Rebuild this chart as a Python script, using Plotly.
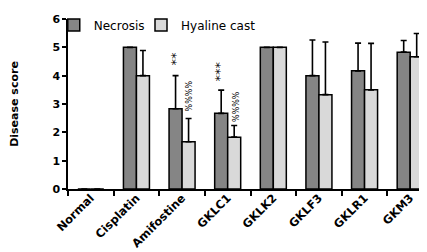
import plotly.graph_objects as go

categories = ["Normal", "Cisplatin", "Amifostine", "GKLC1", "GKLK2", "GKLF3", "GKLR1", "GKM3"]
necrosis = [0, 5, 2.83, 2.67, 5, 4.0, 4.17, 4.83]
necrosis_sd = [0, 0, 1.17, 0.82, 0, 1.26, 0.98, 0.41]
hyaline = [0, 4, 1.67, 1.83, 5, 3.33, 3.5, 4.67]
hyaline_sd = [0, 0.89, 0.82, 0.41, 0, 1.86, 1.64, 0.82]
y_ticks = [0, 1, 2, 3, 4, 5, 6]

font_fam = "DejaVu Sans"

def err(sd):
    return dict(type="data", symmetric=False, array=sd, arrayminus=[0] * len(sd),
                color="black", thickness=1.6, width=3)

fig = go.Figure()
fig.add_trace(go.Bar(name="Necrosis", x=categories, y=necrosis, error_y=err(necrosis_sd),
                     marker=dict(color="#858585", line=dict(color="black", width=1.5)),
                     legend="legend"))
fig.add_trace(go.Bar(name="Hyaline cast", x=categories, y=hyaline, error_y=err(hyaline_sd),
                     marker=dict(color="#d9d9d9", line=dict(color="black", width=1.5)),
                     legend="legend2"))

ann = [
    ("Amifostine", -6.5, 4.59, "**", 13),
    ("Amifostine", 7, 3.27, "%%%%", 8),
    ("GKLC1", -8, 4.14, "***", 13),
    ("GKLC1", 9, 2.92, "%%%%", 8),
]
for cat, xs, yv, txt, sz in ann:
    fig.add_annotation(x=cat, y=yv, xshift=xs, text=txt, textangle=-90, showarrow=False,
                       xanchor="center", yanchor="middle",
                       font=dict(family=font_fam, size=sz, color="black"))

leg_common = dict(orientation="h", y=0.965, xanchor="left", yanchor="middle",
                  font=dict(family=font_fam, size=12, color="black"),
                  bgcolor="rgba(0,0,0,0)", itemwidth=30)

fig.update_layout(
    width=427, height=252,
    margin=dict(l=57, r=2, t=7, b=71),
    paper_bgcolor="white", plot_bgcolor="white",
    barmode="group", bargap=0.43, bargroupgap=0,
    font=dict(family=font_fam, color="black"),
    legend=dict(x=-0.039, **leg_common),
    legend2=dict(x=0.2, **leg_common),
    showlegend=True,
)
fig.update_xaxes(
    type="category", showline=True, linecolor="black", linewidth=1.5,
    ticks="outside", tickson="boundaries", ticklen=5, tickcolor="black", tickwidth=1.5,
    tickangle=-45, tickfont=dict(family=font_fam, size=11.5, color="black", weight="bold"),
    ticklabelstandoff=-4,
    showgrid=False, zeroline=False,
)
fig.update_yaxes(
    range=[0, 6], tickvals=y_ticks, showline=True, linecolor="black", linewidth=1.5,
    ticks="outside", ticklen=4, tickcolor="black", tickwidth=1.5,
    tickfont=dict(family=font_fam, size=11, color="black", weight="bold"),
    showgrid=False, zeroline=False,
    title=dict(text="Disease score", standoff=35,
               font=dict(family=font_fam, size=11, color="black", weight="bold")),
)

fig.write_html("out.html")
